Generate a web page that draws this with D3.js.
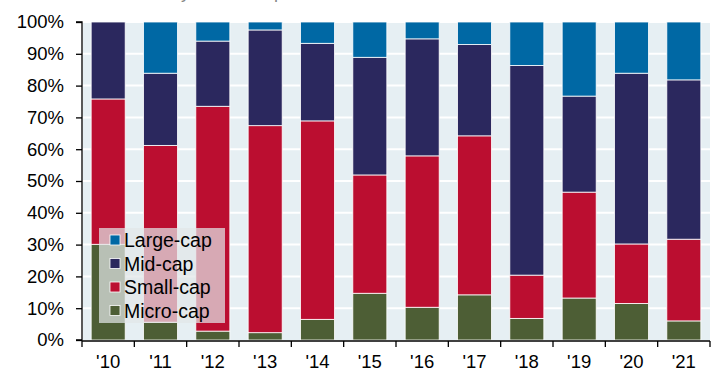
<!DOCTYPE html>
<html><head><meta charset="utf-8">
<script src="https://cdn.jsdelivr.net/npm/d3@7"></script>
<style>body{margin:0;background:#fff}svg{display:block}</style>
</head><body>
<script>
const years = ["'10","'11","'12","'13","'14","'15","'16","'17","'18","'19","'20","'21"];
const microCap = [30.1, 5.6, 2.8, 2.3, 6.5, 14.7, 10.3, 14.2, 6.8, 13.2, 11.5, 6.0];
const smallCap = [45.7, 55.6, 70.7, 65.1, 62.4, 37.2, 47.6, 50.0, 13.6, 33.3, 18.7, 25.7];
const midCap   = [24.2, 22.7, 20.5, 30.1, 24.4, 37.0, 36.8, 28.7, 65.9, 30.2, 53.7, 50.1];
const largeCap = [0.0, 16.1, 6.0, 2.5, 6.7, 11.1, 5.3, 7.1, 13.7, 23.3, 16.1, 18.2];
const seriesNames = ["Micro-cap","Small-cap","Mid-cap","Large-cap"];
const seriesColors = ["#4d5e35","#bb0e30","#2b285e","#0068a4"];
const yTicks = [0,10,20,30,40,50,60,70,80,90,100];
const title = "Share of total IPOs by market cap";

const W = 715, H = 372;
const m = {left:82, right:5, top:22, bottom:32};
const svg = d3.select("body").append("svg").attr("width",W).attr("height",H);

const rows = years.map((y,i)=>({year:y, "Micro-cap":microCap[i], "Small-cap":smallCap[i], "Mid-cap":midCap[i], "Large-cap":largeCap[i]}));
const stack = d3.stack().keys(seriesNames)(rows);

const x = d3.scaleBand().domain(years).range([m.left, W-m.right]).paddingInner(0.35).paddingOuter(0.175);
const y = d3.scaleLinear().domain([0,100]).range([H-m.bottom, m.top]);
const color = d3.scaleOrdinal().domain(seriesNames).range(seriesColors);
const font = "Liberation Sans, Arial, sans-serif";

svg.append("text").attr("x",14).attr("y",-2).attr("font-family",font)
  .attr("font-size",18).attr("fill","#888").text(title);

// panel background
svg.append("rect").attr("x",m.left+1).attr("y",m.top).attr("width",W-m.right-m.left-1).attr("height",y(0)-m.top).attr("fill","#e6eff3");
// gridlines
svg.append("g").selectAll("line").data(yTicks.filter(d=>d>0)).join("line")
  .attr("x1",m.left+1).attr("x2",W-m.right).attr("y1",d=>y(d)).attr("y2",d=>y(d))
  .attr("stroke","#fff").attr("stroke-width",2);

// bars
svg.append("g").selectAll("g").data(stack).join("g").attr("fill",d=>color(d.key))
  .selectAll("rect").data(d=>d).join("rect")
  .attr("x",d=>x(d.data.year)).attr("width",x.bandwidth())
  .attr("y",d=>y(d[1])).attr("height",d=>Math.max(0,y(d[0])-y(d[1])))
  .attr("stroke","#fff").attr("stroke-width",d=>(d[1]-d[0])>0?0.8:0);

// y axis
const yAxis = svg.append("g").attr("transform",`translate(${m.left},0)`)
  .call(d3.axisLeft(y).tickValues(yTicks).tickFormat(d=>d+"%").tickSize(6).tickPadding(12));
yAxis.selectAll("text").attr("font-family",font).attr("font-size",18.5).attr("fill","#000");
yAxis.selectAll("line,path").attr("stroke","#000").attr("stroke-width",1.3);
yAxis.select(".domain").attr("d",`M-6,${y(100)}H0V${y(0)}H-6`);

// x axis
const xAxis = svg.append("g").attr("transform",`translate(0,${y(0)+1})`)
  .call(d3.axisBottom(x).tickSize(0).tickPadding(12));
xAxis.selectAll("text").attr("font-family",font).attr("font-size",18.5).attr("fill","#000")
  .attr("y",27).attr("dy","0");
xAxis.selectAll("path,line").attr("stroke","#000").attr("stroke-width",1.3);
xAxis.select(".domain").attr("d",`M${m.left},0H${W-m.right}`);
const bounds = years.map(d=>x(d)-x.step()*x.paddingInner()/2).concat([W-m.right]);
xAxis.append("g").selectAll("line").data(bounds).join("line")
  .attr("x1",d=>d).attr("x2",d=>d).attr("y1",0).attr("y2",6).attr("stroke","#000").attr("stroke-width",1.3);

// legend
const lg = svg.append("g").attr("transform","translate(99,228)");
lg.append("rect").attr("width",126).attr("height",95).attr("fill","#e2e6e8").attr("opacity",0.72);
const legendItems = seriesNames.slice().reverse();
const li = lg.selectAll("g.item").data(legendItems).join("g").attr("class","item")
  .attr("transform",(d,i)=>`translate(11,${12+i*23.5})`);
li.append("rect").attr("x",0).attr("y",-5).attr("width",10).attr("height",10).attr("fill",d=>color(d)).attr("stroke","#fff").attr("stroke-width",0.8);
li.append("text").attr("x",14).attr("y",0).attr("dy","0.36em").attr("font-family",font).attr("font-size",19.5).attr("fill","#000").text(d=>d);
</script>
</body></html>
